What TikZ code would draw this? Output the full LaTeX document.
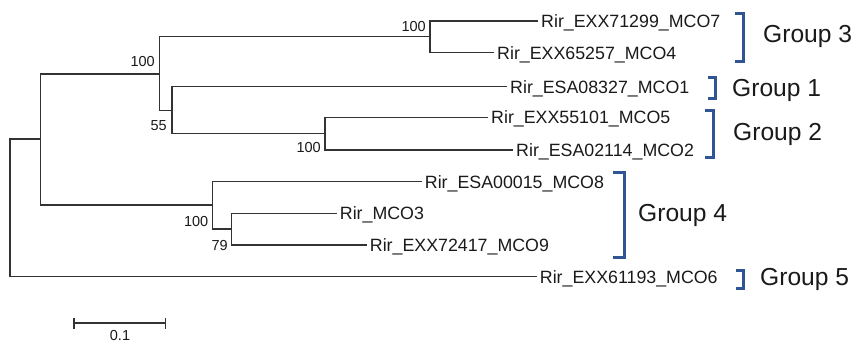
\documentclass[tikz,border=0pt]{standalone}
\usepackage{fontspec}
\setmainfont{Liberation Sans}
\definecolor{treegray}{HTML}{333333}
\definecolor{labelgray}{HTML}{1A1A1A}
\definecolor{bracketblue}{HTML}{2F5597}
\begin{document}
\begin{tikzpicture}[x=1pt,y=-1pt,
  branch/.style={draw=treegray, line width=1.25pt},
  leaf/.style={anchor=west, inner xsep=3pt, inner ysep=0pt, text height=12.7pt, text depth=0pt,
    font=\fontsize{17.8}{20}\selectfont, text=labelgray},
  bsval/.style={anchor=east, inner sep=0pt, text height=10.4pt, text depth=0pt,
    font=\fontsize{14.5}{16}\selectfont, text=labelgray},
  grouplabel/.style={anchor=west, inner sep=0pt, text height=17.6pt, text depth=0pt,
    font=\fontsize{24.6}{28}\selectfont, text=labelgray},
  bracketline/.style={draw=bracketblue, line width=3pt}
]
\useasboundingbox (0,0) rectangle (859,343);

% internal nodes
\coordinate (R) at (10,208.3);
\coordinate (A) at (40.7,139);
\coordinate (B) at (159.3,74);
\coordinate (C) at (430,36.8);
\coordinate (D) at (172,110.3);
\coordinate (E) at (325,133.7);
\coordinate (F) at (212.7,205);
\coordinate (G) at (231.7,229);

% leaves
\node[leaf] (m7) at (538,21) {Rir\_EXX71299\_MCO7};
\node[leaf] (m4) at (494,52.7) {Rir\_EXX65257\_MCO4};
\node[leaf] (m1) at (507,86.7) {Rir\_ESA08327\_MCO1};
\node[leaf] (m5) at (488,117.3) {Rir\_EXX55101\_MCO5};
\node[leaf] (m2) at (513,150) {Rir\_ESA02114\_MCO2};
\node[leaf] (m8) at (421.7,181.7) {Rir\_ESA00015\_MCO8};
\node[leaf] (m3) at (336.7,213.3) {Rir\_MCO3};
\node[leaf] (m9) at (366.7,245) {Rir\_EXX72417\_MCO9};
\node[leaf] (m6) at (536.7,276.7) {Rir\_EXX61193\_MCO6};

% branches
\draw[branch] (R) |- (A);
\draw[branch] (R) |- (m6.west);
\draw[branch] (A) |- (B);
\draw[branch] (A) |- (F);
\draw[branch] (B) |- (C);
\draw[branch] (B) |- (D);
\draw[branch] (C) |- (m7.west);
\draw[branch] (C) |- (m4.west);
\draw[branch] (D) |- (m1.west);
\draw[branch] (D) |- (E);
\draw[branch] (E) |- (m5.west);
\draw[branch] (E) |- (m2.west);
\draw[branch] (F) |- (m8.west);
\draw[branch] (F) |- (G);
\draw[branch] (G) |- (m3.west);
\draw[branch] (G) |- (m9.west);

% bootstrap values
\node[bsval] (bB) at (155,61.5) {100};
\node[bsval] (bC) at (426,26.5) {100};
\node[bsval] (bD) at (167,125) {55};
\node[bsval] (bE) at (321,147.5) {100};
\node[bsval] (bF) at (208.5,221) {100};
\node[bsval] (bG) at (228,245) {79};

% scale bar
\coordinate (s1) at (74,323);
\coordinate (s2) at (165.7,323);
\draw[branch] (s1) -- (s2);
\draw[branch] ([yshift=-5.5pt]s1) -- ([yshift=5.5pt]s1);
\draw[branch] ([yshift=-5.5pt]s2) -- ([yshift=5.5pt]s2);
\node[bsval, anchor=center] (sl) at (120,335.5) {0.1};

% group brackets
\draw[bracketline] (735,13) -- (743,13) -- (743,61) -- (735,61);
\draw[bracketline] (708,77) -- (715,77) -- (715,98) -- (708,98);
\draw[bracketline] (705,110) -- (713,110) -- (713,157) -- (705,157);
\draw[bracketline] (613,172) -- (624,172) -- (624,257) -- (613,257);
\draw[bracketline] (736,270) -- (743,270) -- (743,288) -- (736,288);

\node[grouplabel] (g3) at (763,34) {Group 3};
\node[grouplabel] (g1) at (732,88) {Group 1};
\node[grouplabel] (g2) at (733,132) {Group 2};
\node[grouplabel] (g4) at (638,212.5) {Group 4};
\node[grouplabel] (g5) at (760,277) {Group 5};
\end{tikzpicture}
\end{document}
